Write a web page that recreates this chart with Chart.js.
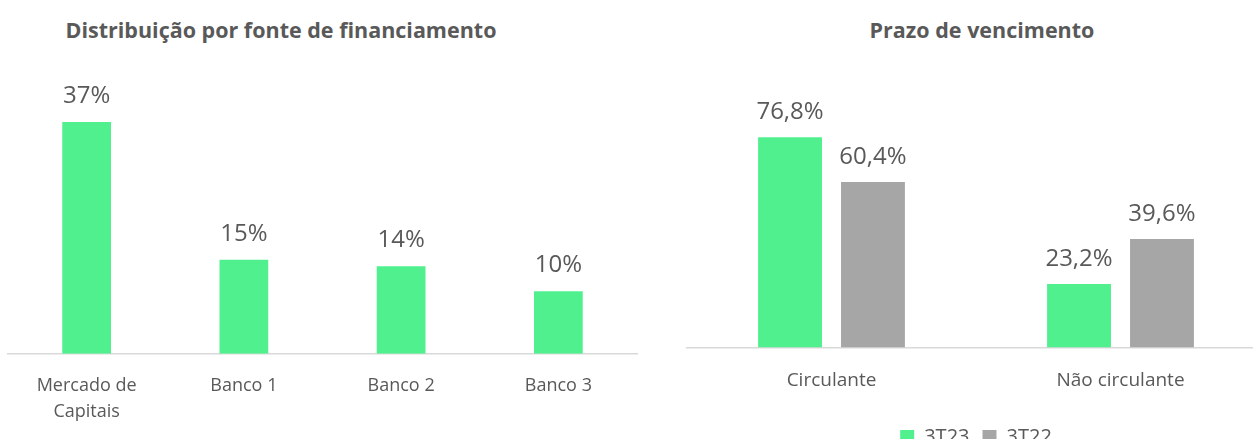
<!DOCTYPE html>
<html>
<head>
<meta charset="utf-8">
<script src="https://cdn.jsdelivr.net/npm/chart.js@4.4.0/dist/chart.umd.min.js"></script>
<style>
	html, body { margin: 0; padding: 0; background: #fff; overflow: hidden; width: 1253px; height: 439px; }
	.title { position: absolute; top: 15px; font: bold 21.5px "Open Sans", sans-serif; color: #595959; white-space: nowrap; transform: translateX(-50%); }
	.box { position: absolute; top: 0; }
</style>
</head>
<body>
<div class="title" style="left:281px">Distribuição por fonte de financiamento</div>
<div class="title" style="left:982px">Prazo de vencimento</div>
<div class="box" style="left:0; width:648px; height:439px"><canvas id="left"></canvas></div>
<div class="box" style="left:680px; width:590px; height:457px"><canvas id="right"></canvas></div>
<script>
const fonteLabels = [["Mercado de", "Capitais"], "Banco 1", "Banco 2", "Banco 3"];
const fonteValues = [37, 15, 14, 10];

const prazoLabels = ["Circulante", "Não circulante"];
const prazo3T23 = [76.8, 23.2];
const prazo3T22 = [60.4, 39.6];

const GREEN = "#50F08F";
const GRAY = "#A6A6A6";
const TEXT = "#595959";
const FONT = "'Open Sans', sans-serif";

Chart.defaults.font.family = FONT;
Chart.defaults.color = TEXT;

// draws the value above each bar
const valueLabels = {
	id: "valueLabels",
	afterDatasetsDraw(chart, args, opts) {
		const ctx = chart.ctx;
		ctx.save();
		ctx.font = "24px " + FONT;
		ctx.fillStyle = TEXT;
		ctx.textAlign = "center";
		ctx.textBaseline = "middle";
		chart.data.datasets.forEach((ds, i) => {
			chart.getDatasetMeta(i).data.forEach((bar, j) => {
				ctx.fillText(opts.format(ds.data[j]), bar.x, bar.y - opts.offset);
			});
		});
		ctx.restore();
	}
};

const xAxis = (pad, size, lh) => ({
	grid: {display: false, drawTicks: false, tickLength: 0},
	border: {color: "#D9D9D9", width: 1.5},
	ticks: {font: {size: size, lineHeight: lh}, color: TEXT, padding: pad, maxRotation: 0, autoSkip: false}
});

new Chart(document.getElementById("left"), {
	type: "bar",
	data: {
		labels: fonteLabels,
		datasets: [{data: fonteValues, backgroundColor: GREEN, categoryPercentage: 1, barPercentage: 0.31}]
	},
	options: {
		responsive: true,
		maintainAspectRatio: false,
		animation: false,
		layout: {padding: {top: 72, left: 8, right: 11, bottom: -5}},
		scales: {
			x: xAxis(19, 18, 1.45),
			y: {display: false, min: 0, max: 45}
		},
		plugins: {
			legend: {display: false},
			tooltip: {enabled: false},
			valueLabels: {offset: 26, format: v => v + "%"}
		}
	},
	plugins: [valueLabels]
});

new Chart(document.getElementById("right"), {
	type: "bar",
	data: {
		labels: prazoLabels,
		datasets: [
			{label: "3T23", data: prazo3T23, backgroundColor: GREEN, categoryPercentage: 0.574, barPercentage: 0.77},
			{label: "3T22", data: prazo3T22, backgroundColor: GRAY, categoryPercentage: 0.574, barPercentage: 0.77}
		]
	},
	options: {
		responsive: true,
		maintainAspectRatio: false,
		animation: false,
		layout: {padding: {top: 101, left: 7, right: 5, bottom: 0}},
		scales: {
			x: xAxis(18, 19, 1.6),
			y: {display: false, min: 0, max: 90}
		},
		plugins: {
			legend: {
				position: "bottom",
				labels: {boxWidth: 14, boxHeight: 14, font: {size: 20}, color: TEXT, padding: 13}
			},
			tooltip: {enabled: false},
			valueLabels: {offset: 25, format: v => v.toFixed(1).replace(".", ",") + "%"}
		}
	},
	plugins: [valueLabels]
});
</script>
</body>
</html>
